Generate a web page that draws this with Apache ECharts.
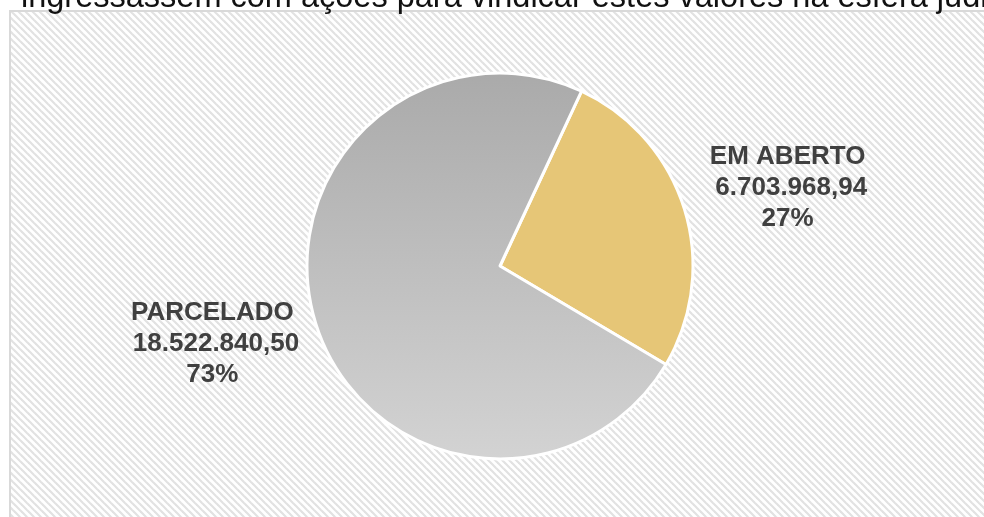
<!DOCTYPE html>
<html>
<head>
    <meta charset="utf-8">
    <title>Pie</title>
    <script src="https://cdn.jsdelivr.net/npm/echarts@6/dist/echarts.min.js"></script>
    <style>
        html, body { margin: 0; padding: 0; background: #fff; }
    </style>
</head>
<body>
    <div id="main" style="width: 984px;height: 517px;"></div>
    <script type="text/javascript">
    var titleText = 'ingressassem com ações para vindicar estes valores na esfera judicial';
    var categories = ['EM ABERTO', 'PARCELADO'];
    var values = [6703968.94, 18522840.50];
    var valueLabels = [' 6.703.968,94', ' 18.522.840,50'];
    var percentLabels = ['27%', '73%'];

    var center = [500, 266];
    var radius = 193;
    var startAngle = 65;

    // diagonal hatch for the chart area
    var hatch = document.createElement('canvas');
    hatch.width = 7; hatch.height = 7;
    var hc = hatch.getContext('2d');
    hc.fillStyle = '#ffffff';
    hc.fillRect(0, 0, 7, 7);
    hc.strokeStyle = '#e2e2e2';
    hc.lineWidth = 2.2;
    for (var k = -1; k <= 1; k++) {
        hc.beginPath();
        hc.moveTo(k * 7 - 1, -1);
        hc.lineTo(k * 7 + 8, 8);
        hc.stroke();
    }

    var total = values.reduce((a, b) => a + b, 0);
    function midAngle(idx) {
        var before = 0;
        for (var i = 0; i < idx; i++) before += values[i];
        var a = startAngle - (before + values[idx] / 2) / total * 360;
        return a * Math.PI / 180;
    }

    var myChart = echarts.init(document.getElementById('main'));
    var option = {
        animation: false,
        graphic: [
            {
                type: 'rect',
                z: -10,
                shape: { x: 10, y: 11, width: 990, height: 520 },
                style: { fill: { image: hatch, repeat: 'repeat' }, stroke: '#d9d9d9', lineWidth: 2 }
            },
            {
                type: 'text',
                left: 21,
                top: -18,
                style: { text: titleText, font: '32.5px "Liberation Sans"', fill: '#111' }
            }
        ],
        series: [{
            type: 'pie',
            center: center,
            radius: radius,
            startAngle: startAngle,
            clockwise: true,
            data: categories.map((c, i) => ({
                name: c,
                value: values[i],
                itemStyle: {
                    color: i === 0 ? '#e6c677' : new echarts.graphic.LinearGradient(0, 0, 0, 1, [
                        { offset: 0, color: '#aaaaaa' },
                        { offset: 1, color: '#d3d3d3' }
                    ])
                }
            })),
            itemStyle: { borderColor: '#fff', borderWidth: 3 },
            label: {
                show: true,
                position: 'outside',
                formatter: p => p.name + '\n' + valueLabels[p.dataIndex] + '\n' + percentLabels[p.dataIndex],
                fontFamily: 'Liberation Sans',
                fontWeight: 'bold',
                fontSize: 26,
                lineHeight: 31,
                color: '#404040',
                align: 'center'
            },
            labelLine: { show: false },
            labelLayout: function (params) {
                var a = midAngle(params.dataIndex) - 2 * Math.PI / 180;
                var d = 298;
                return {
                    x: center[0] + d * Math.cos(a),
                    y: center[1] - d * Math.sin(a),
                    align: 'center',
                    verticalAlign: 'middle'
                };
            }
        }]
    };
    myChart.setOption(option);
    </script>
</body>
</html>
